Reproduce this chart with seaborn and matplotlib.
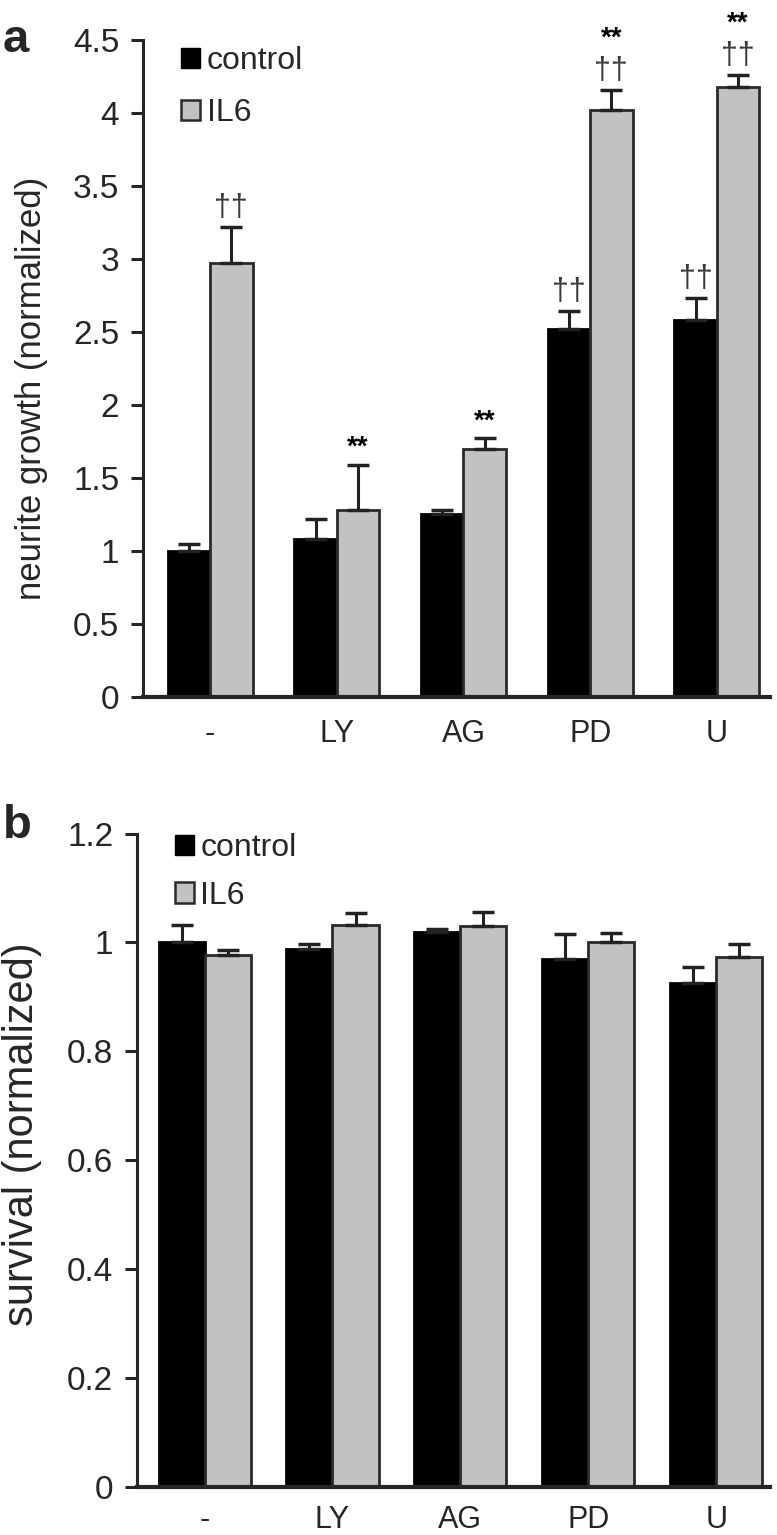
import matplotlib
matplotlib.use("Agg")
import matplotlib.pyplot as plt
import seaborn as sns
import pandas as pd
from matplotlib.patches import Patch

treatments = ["-", "LY", "AG", "PD", "U"]
groups = ["control", "IL6"]

growth_control = [1.00, 1.08, 1.25, 2.52, 2.58]
growth_control_err = [0.05, 0.14, 0.03, 0.12, 0.15]
growth_il6 = [2.97, 1.28, 1.70, 4.02, 4.18]
growth_il6_err = [0.25, 0.31, 0.07, 0.14, 0.08]

surv_control = [1.000, 0.988, 1.020, 0.970, 0.925]
surv_control_err = [0.032, 0.010, 0.005, 0.046, 0.030]
surv_il6 = [0.977, 1.032, 1.030, 1.000, 0.973]
surv_il6_err = [0.009, 0.022, 0.026, 0.018, 0.024]

# significance marks per bar, listed bottom to top
growth_marks_control = [[], [], [], ["††"], ["††"]]
growth_marks_il6 = [["††"], ["**"], ["**"], ["††", "**"], ["††", "**"]]

colors = {"control": "black", "IL6": "#c2c2c2"}
edges = {"control": "black", "IL6": "#2a2a2a"}

sns.set_style("ticks")
plt.rcParams["font.family"] = ["Liberation Sans", "DejaVu Sans"]


def make_df(ctrl, il6):
    return pd.DataFrame({
        "treatment": treatments * 2,
        "group": ["control"] * 5 + ["IL6"] * 5,
        "value": list(ctrl) + list(il6),
    })


def draw_panel(ax, ctrl, ctrl_err, il6, il6_err, width, xpad, legend_gap, legend_y):
    df = make_df(ctrl, il6)
    sns.barplot(data=df, x="treatment", y="value", hue="group", order=treatments,
                hue_order=groups, palette=colors, width=width, errorbar=None,
                legend=False, ax=ax, saturation=1)
    centers = {}
    for cont, g, vals, errs in zip(ax.containers, groups, [ctrl, il6], [ctrl_err, il6_err]):
        xs = []
        for bar in cont:
            bar.set_edgecolor(edges[g])
            bar.set_linewidth(2)
            xs.append(bar.get_x() + bar.get_width() / 2)
        ax.errorbar(xs, vals, yerr=[[0] * len(errs), errs], fmt="none",
                    ecolor="#222222", elinewidth=2.2, capsize=8, capthick=2.5, zorder=1)
        centers[g] = xs
    sns.despine(ax=ax)
    ax.spines["left"].set_linewidth(2.2)
    ax.spines["bottom"].set_linewidth(3)
    ax.tick_params(axis="y", length=9, width=2.2, labelsize=24, pad=8)
    ax.tick_params(axis="x", length=0, labelsize=22, pad=xpad)
    ax.set_xlabel("")
    ax.set_xlim(-0.53, 4.42)
    ax.legend(handles=[Patch(facecolor="black", edgecolor="black", label="control"),
                       Patch(facecolor=colors["IL6"], edgecolor=edges["IL6"], linewidth=1.8,
                             label="IL6")],
              loc="upper left", bbox_to_anchor=(0.03, legend_y), frameon=False,
              fontsize=23, handlelength=0.6, handleheight=0.6, handletextpad=0.2,
              labelspacing=legend_gap, borderaxespad=0.2)
    return centers


fig = plt.figure(figsize=(7.77, 15.35), dpi=100)
ax1 = fig.add_axes([0.184, 0.546, 0.807, 0.428])
ax2 = fig.add_axes([0.176, 0.031, 0.815, 0.426])

c1 = draw_panel(ax1, growth_control, growth_control_err, growth_il6, growth_il6_err,
                0.67, 16, 0.7, 1.02)
ax1.set_ylim(0, 4.5)
ax1.set_yticks([0, 0.5, 1, 1.5, 2, 2.5, 3, 3.5, 4, 4.5])
ax1.set_yticklabels(["0", "0.5", "1", "1.5", "2", "2.5", "3", "3.5", "4", "4.5"])
ax1.set_ylabel("neurite growth (normalized)", fontsize=25)
ax1.yaxis.set_label_coords(-0.152, 0.47)

for g, vals, errs, marks in [("control", growth_control, growth_control_err, growth_marks_control),
                             ("IL6", growth_il6, growth_il6_err, growth_marks_il6)]:
    for x, v, e, ms in zip(c1[g], vals, errs, marks):
        off = 4
        for m in ms:
            if m == "††":
                ax1.annotate(m, (x, v + e), xytext=(0, off), textcoords="offset pixels",
                             ha="center", va="bottom", fontsize=22, color="#3a3a3a",
                             annotation_clip=False)
                off += 34
            else:
                ax1.annotate(m, (x, v + e), xytext=(0, off), textcoords="offset pixels",
                             ha="center", va="bottom", fontsize=20, color="black",
                             fontweight="bold", annotation_clip=False)
                off += 24

c2 = draw_panel(ax2, surv_control, surv_control_err, surv_il6, surv_il6_err,
                0.72, 13, 0.55, 1.03)
ax2.set_ylim(0, 1.2)
ax2.set_yticks([0, 0.2, 0.4, 0.6, 0.8, 1.0, 1.2])
ax2.set_yticklabels(["0", "0.2", "0.4", "0.6", "0.8", "1", "1.2"])
ax2.set_ylabel("survival (normalized)", fontsize=30)
ax2.yaxis.set_label_coords(-0.149, 0.54)

fig.text(0.004, 0.988, "a", fontsize=34, fontweight="bold", va="top")
fig.text(0.004, 0.476, "b", fontsize=34, fontweight="bold", va="top")

fig.savefig("out.png", dpi=100)
